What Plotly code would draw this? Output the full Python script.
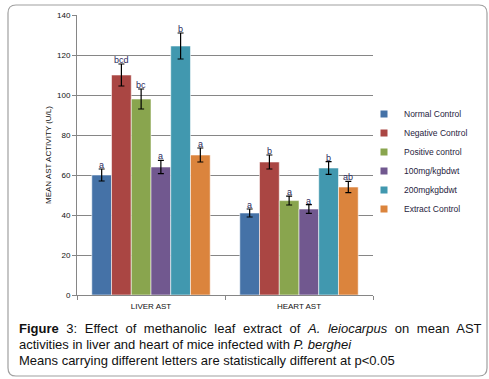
import plotly.graph_objects as go

categories = ["LIVER AST", "HEART AST"]
series_names = ["Normal Control", "Negative Control", "Positive control",
                "100mg/kgbdwt", "200mgkgbdwt", "Extract Control"]
values = [
    [60, 41],
    [110, 66.5],
    [98, 47.2],
    [64, 43],
    [124.5, 63.5],
    [70, 54],
]
errors = [
    [3, 2],
    [5.5, 3.5],
    [5, 2.2],
    [3.3, 2.2],
    [6.5, 3.2],
    [3.5, 2.8],
]
letters = [
    ["a", "a"],
    ["bcd", "b"],
    ["bc", "a"],
    ["a", "a"],
    ["b", "b"],
    ["a", "ab"],
]
colors = ["#4572A7", "#AA4643", "#89A54E", "#71588F", "#4198AF", "#DB843D"]
y_ticks = [0, 20, 40, 60, 80, 100, 120, 140]

W, H = 489, 379
L, R, T, B = 77, 373, 15, 295

def px_x(p):
    return (p - L) / (R - L)

def px_y(p):
    return (B - p) / (B - T)

fig = go.Figure()
for name, vals, errs, col in zip(series_names, values, errors, colors):
    fig.add_trace(go.Bar(
        name=name, x=categories, y=vals,
        marker=dict(color=col, line=dict(color="rgba(255,255,255,0.55)", width=1)),
        error_y=dict(type="data", array=errs, color="black", thickness=1.2, width=3),
        showlegend=False,
    ))
    fig.add_trace(go.Scatter(
        name=name, x=[None], y=[None], mode="markers",
        marker=dict(symbol="square", size=7, color=col),
        showlegend=True,
    ))

annotations = []
n = len(series_names)
gap = 0.2
bw = (1 - gap) / n
for j in range(n):
    for i in range(len(categories)):
        xc = i - (1 - gap) / 2 + (j + 0.5) * bw
        annotations.append(dict(
            x=xc, y=values[j][i] + errors[j][i], xref="x", yref="y",
            text=letters[j][i], showarrow=False, yanchor="bottom", yshift=-3,
            font=dict(family="Liberation Sans", size=9, color="#2a2a5c"),
        ))

cap_font = dict(family="Liberation Sans", size=13, color="#111")
caption_lines = [
    "<span style=\"word-spacing:4px\"><b>Figure</b> 3: Effect of methanolic leaf extract of "
    "<i>A. leiocarpus</i> on mean AST</span>",
    "activities in liver and heart of mice infected with <i>P. berghei</i>",
    "Means carrying different letters are statistically different at p<0.05",
]
for line, py in zip(caption_lines, [328, 344.5, 360]):
    annotations.append(dict(
        x=px_x(17), y=px_y(py), xref="paper", yref="paper", text=line,
        showarrow=False, xanchor="left", yanchor="middle", font=cap_font,
    ))

# rounded outer border
l, r, t, b, rad = 8, 487, 5, 376, 8
def P(x, y):
    return f"{px_x(x):.5f},{px_y(y):.5f}"
path = (f"M{P(l + rad, t)} L{P(r - rad, t)} Q{P(r, t)} {P(r, t + rad)} "
        f"L{P(r, b - rad)} Q{P(r, b)} {P(r - rad, b)} L{P(l + rad, b)} "
        f"Q{P(l, b)} {P(l, b - rad)} L{P(l, t + rad)} Q{P(l, t)} {P(l + rad, t)} Z")

fig.update_layout(
    width=W, height=H,
    margin=dict(l=L, r=W - R, t=T, b=H - B, autoexpand=False),
    paper_bgcolor="white", plot_bgcolor="white",
    barmode="group", bargap=gap, bargroupgap=0,
    font=dict(family="Liberation Sans", size=8, color="#111"),
    xaxis=dict(
        showline=True, linecolor="#868686", linewidth=1, automargin=False,
        ticks="outside", tickson="boundaries", ticklen=4, tickcolor="#868686",
        tickfont=dict(size=8, color="#111"), showgrid=False, ticklabelstandoff=3,
    ),
    yaxis=dict(
        range=[0, 140], tickvals=y_ticks, showgrid=True, gridcolor="#868686",
        gridwidth=1, showline=True, linecolor="#868686", linewidth=1,
        ticks="outside", ticklen=4, tickcolor="#868686", automargin=False,
        tickfont=dict(size=8, color="#111"), zeroline=False,
        title=dict(text="MEAN AST ACTIVITY (U/L)", font=dict(size=8, color="#111"), standoff=4),
    ),
    legend=dict(
        xref="container", yref="container",
        x=364 / W, y=1 - 99.5 / H, xanchor="left", yanchor="top",
        font=dict(family="Liberation Sans", size=8.5, color="#1f2340"),
        itemwidth=30, bgcolor="rgba(0,0,0,0)", tracegroupgap=0,
    ),
    annotations=annotations,
    shapes=[dict(type="path", path=path, xref="paper", yref="paper",
                 line=dict(color="#a0a0a0", width=1.2), layer="below")],
)

fig.write_html("out.html", config={"displayModeBar": False},
               post_script="document.body.style.margin='0';")
